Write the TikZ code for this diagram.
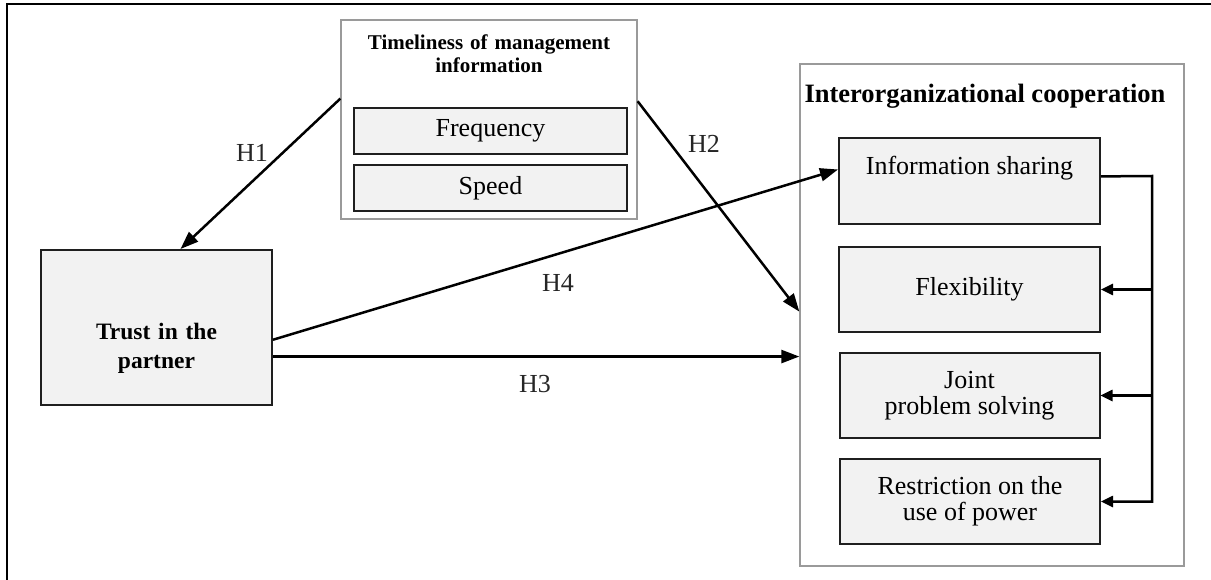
\documentclass[tikz,border=0pt]{standalone}
\usepackage{fontspec}
\setmainfont{Liberation Serif}
\usetikzlibrary{arrows.meta,calc}
\definecolor{boxgray}{HTML}{F2F2F2}
\definecolor{framegray}{HTML}{9A9A9A}
\tikzset{
  inbox/.style={draw=black!88, line width=2pt, fill=boxgray, inner sep=0pt,
    font=\fontsize{26}{26}\selectfont, align=center},
  grpbox/.style={draw=framegray, line width=1.3pt, inner sep=0pt},
  conn/.style={line width=2.5pt, -{Triangle[length=18pt,width=13pt]}},
  busconn/.style={line width=2.5pt, -{Triangle[length=12pt,width=11pt]}},
  hlabel/.style={font=\fontsize{26}{26}\selectfont, anchor=base, inner sep=0pt, text=black!85},
}
\begin{document}
\begin{tikzpicture}[x=1pt,y=-1pt]
\useasboundingbox (0,0) rectangle (1211,580);
% outer frame (cut by the page)
\draw[line width=2.8pt] (7,600) -- (7,4) -- (1230,4);

% timeliness group
\node[grpbox, minimum width=296pt, minimum height=199pt] (timel) at (489,119.5) {};
\node[anchor=base, inner sep=0pt, text width=290pt, align=center,
      font=\bfseries\fontsize{21}{23}\selectfont] (timeltitle) at (489,50)
      {Timeliness of management\\information};
\node[inbox, minimum width=273pt, minimum height=46pt] (freq) at (490.5,131) {Frequency};
\node[inbox, minimum width=273pt, minimum height=46pt] (speed) at (490.5,188) {Speed};

% trust
\node[inbox, minimum width=231pt, minimum height=155pt, text width=225pt,
      font=\bfseries\fontsize{23.5}{29}\selectfont, text height=40pt, text depth=17pt]
      (trust) at (156.5,327.5) {Trust in the\\partner};

% interorganizational group
\node[grpbox, minimum width=384pt, minimum height=502pt] (interorg) at (992,315) {};
\node[anchor=base, inner sep=0pt, font=\bfseries\fontsize{26.5}{28}\selectfont]
      (ictitle) at (985,103) {Interorganizational cooperation};
\node[inbox, minimum width=261pt, minimum height=86pt, text height=18pt, text depth=30pt]
      (info) at (969.5,181) {Information sharing};
\node[inbox, minimum width=261pt, minimum height=85pt] (flex) at (969.5,289.5) {Flexibility};
\node[inbox, minimum width=260pt, minimum height=85pt] (joint) at (969.5,395.5) {Joint\\problem solving};
\node[inbox, minimum width=260pt, minimum height=85pt] (restr) at (970,501.5) {Restriction on the\\use of power};

% hypotheses
\draw[conn] (timel.172.5) -- (trust.73);
\draw[conn] (timel.7.5) -- (interorg.179.1);
\draw[conn] (trust.-6.2) -- (info.175.2);
\draw[conn] (trust.-14.8) -- (trust.-14.8 -| interorg.west);

\node[hlabel] (h1) at (252,162) {H1};
\node[hlabel] (h2) at (704,153) {H2};
\node[hlabel] (h4) at (558,292) {H4};
\node[hlabel] (h3) at (535,392) {H3};

% bus on the right
\coordinate (bus) at (1152,176);
\draw[busconn, line join=miter] (info.2.2) -- (bus) |- (restr.east);
\draw[busconn] (bus |- flex.east) -- (flex.east);
\draw[busconn] (bus |- joint.east) -- (joint.east);
\end{tikzpicture}
\end{document}
